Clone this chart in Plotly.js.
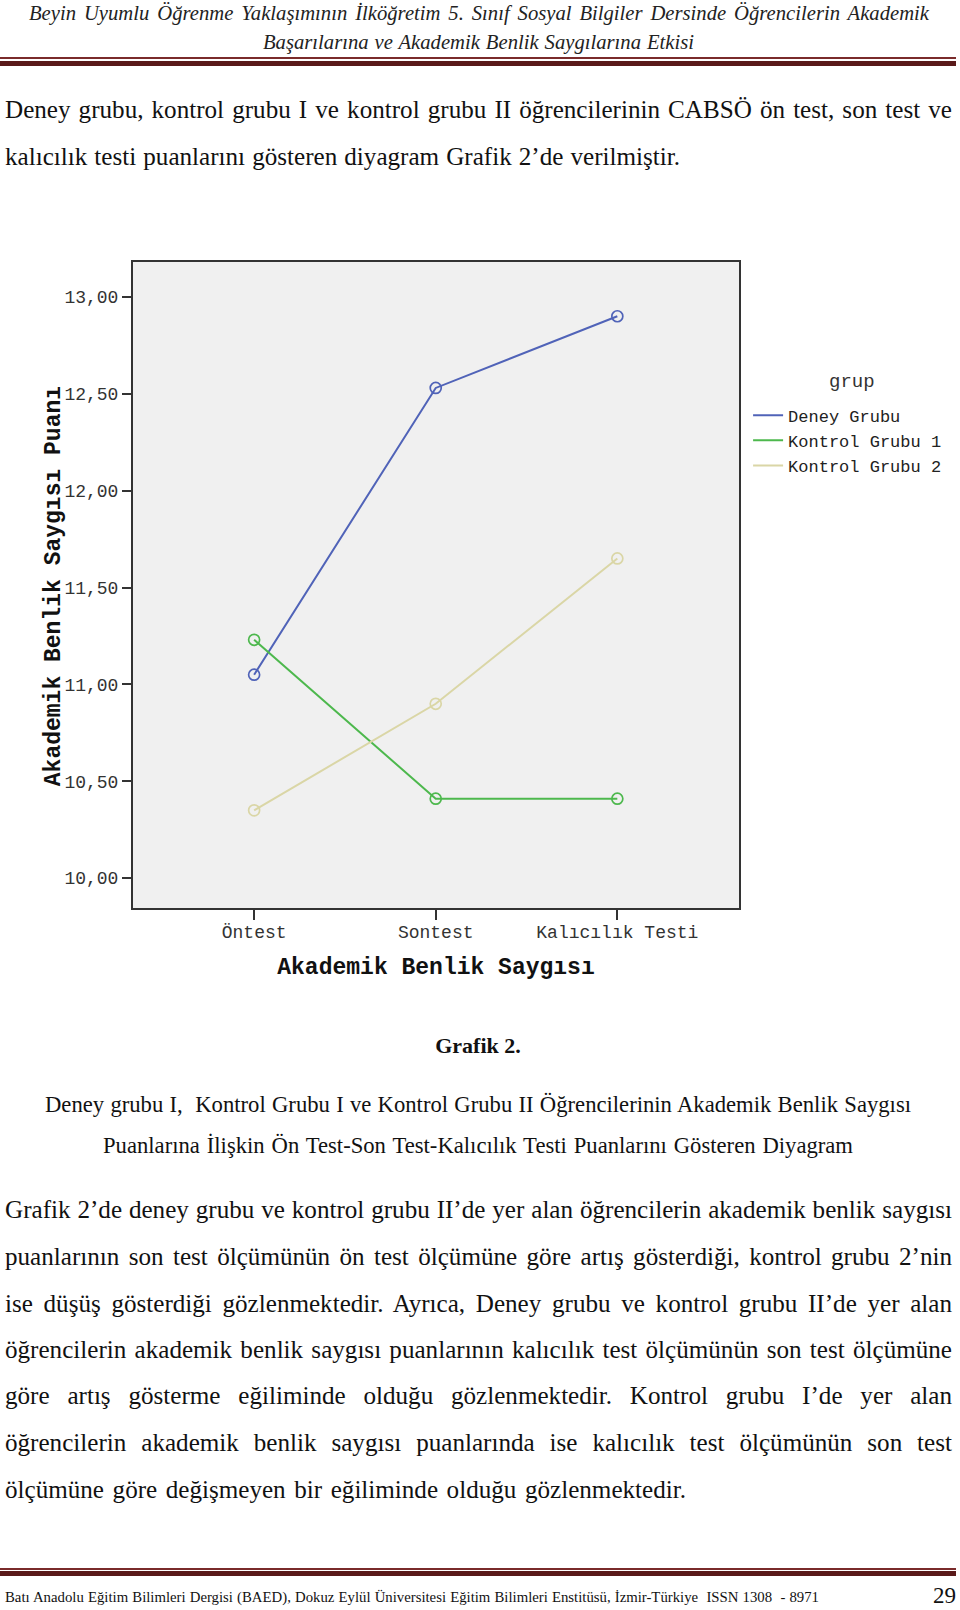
<!DOCTYPE html>
<html>
<head>
<meta charset="utf-8">
<script src="https://cdn.plot.ly/plotly-3.0.1.min.js"></script>
<style>
  html, body { margin: 0; padding: 0; background: #ffffff; }
  body { width: 960px; height: 1610px; position: relative; overflow: hidden; }
  .ln { position: absolute; white-space: normal; color: #111; font-family: "Liberation Serif", serif;
        text-align: justify; text-align-last: justify; overflow: visible; }
  .hdr { font-style: italic; font-size: 20px; color: #222; line-height: 24px; }
  .body { font-size: 22.5px; line-height: 28px; }
  .cap { font-size: 21px; line-height: 26px; }
  .foot { font-size: 14px; line-height: 18px; }
  .rule1 { position: absolute; left: 0; width: 956px; background: #7a2b2b; }
  #chart { position: absolute; left: 0; top: 230px; width: 960px; height: 770px; }
</style>
</head>
<body>
<div class="ln hdr" data-w="900" style="left:29px; width:900px; top:1px;">Beyin Uyumlu Öğrenme Yaklaşımının İlköğretim 5. Sınıf Sosyal Bilgiler Dersinde Öğrencilerin Akademik</div>
<div class="ln hdr" data-w="431" style="left:263px; width:431px; top:30px;">Başarılarına ve Akademik Benlik Saygılarına Etkisi</div>
<div class="rule1" style="top:57px; height:2px;"></div>
<div class="rule1" style="top:61px; height:5px; background:#5a1a1a;"></div>

<div class="ln body p1" data-w="947" style="left:5px; width:947px; top:96px;">Deney grubu, kontrol grubu I ve kontrol grubu II öğrencilerinin CABSÖ ön test, son test ve</div>
<div class="ln body p1" data-w="675" style="left:5px; width:675px; top:143px;">kalıcılık testi puanlarını gösteren diyagram Grafik 2’de verilmiştir.</div>

<div id="chart"></div>

<div class="ln" style="left:0; width:956px; top:1033px; font-size:22px; font-weight:bold; line-height:26px; text-align:center; text-align-last:center;">Grafik 2.</div>
<div class="ln cap" data-w="866" style="left:45px; width:866px; top:1092px;">Deney grubu I,&nbsp; Kontrol Grubu I ve Kontrol Grubu II Öğrencilerinin Akademik Benlik Saygısı</div>
<div class="ln cap" data-w="750" style="left:103px; width:750px; top:1133px;">Puanlarına İlişkin Ön Test-Son Test-Kalıcılık Testi Puanlarını Gösteren Diyagram</div>

<div class="ln body p2" data-w="947" style="left:5px; width:947px; top:1196px;">Grafik 2’de deney grubu ve kontrol grubu II’de yer alan öğrencilerin akademik benlik saygısı</div>
<div class="ln body p2" data-w="947" style="left:5px; width:947px; top:1243px;">puanlarının son test ölçümünün ön test ölçümüne göre artış gösterdiği, kontrol grubu 2’nin</div>
<div class="ln body p2" data-w="947" style="left:5px; width:947px; top:1290px;">ise düşüş gösterdiği gözlenmektedir. Ayrıca, Deney grubu ve kontrol grubu II’de yer alan</div>
<div class="ln body p2" data-w="947" style="left:5px; width:947px; top:1336px;">öğrencilerin akademik benlik saygısı puanlarının kalıcılık test ölçümünün son test ölçümüne</div>
<div class="ln body p2" data-w="947" style="left:5px; width:947px; top:1382px;">göre artış gösterme eğiliminde olduğu gözlenmektedir. Kontrol grubu I’de yer alan</div>
<div class="ln body p2" data-w="947" style="left:5px; width:947px; top:1429px;">öğrencilerin akademik benlik saygısı puanlarında ise kalıcılık test ölçümünün son test</div>
<div class="ln body p2" data-w="681" style="left:5px; width:681px; top:1476px;">ölçümüne göre değişmeyen bir eğiliminde olduğu gözlenmektedir.</div>

<div class="rule1" style="top:1568px; height:2px;"></div>
<div class="rule1" style="top:1571px; height:5px; background:#5a1a1a;"></div>
<div class="ln foot" data-w="814" style="left:5px; width:814px; top:1588px;">Batı Anadolu Eğitim Bilimleri Dergisi (BAED), Dokuz Eylül Üniversitesi Eğitim Bilimleri Enstitüsü, İzmir-Türkiye&nbsp; ISSN 1308&nbsp; - 8971</div>
<div class="ln" style="left:930px; width:26px; top:1583px; font-size:23px; line-height:26px; text-align:right; text-align-last:right;">29</div>

<script>
// ---- data ----
const categories = ['Öntest', 'Sontest', 'Kalıcılık Testi'];
const groupNames = ['Deney Grubu', 'Kontrol Grubu 1', 'Kontrol Grubu 2'];
const deneyGrubu = [11.05, 12.53, 12.90];
const kontrolGrubu1 = [11.23, 10.41, 10.41];
const kontrolGrubu2 = [10.35, 10.90, 11.65];
const legendTitle = 'grup';
const xAxisTitle = 'Akademik Benlik Saygısı';
const yAxisTitle = 'Akademik Benlik Saygısı Puanı';

// ---- fit page text lines to the widths they occupy on the page ----
(function fitText() {
  const cv = document.createElement('canvas').getContext('2d');
  function fit(sel, base, style) {
    const els = Array.from(document.querySelectorAll(sel));
    cv.font = style + ' ' + base + 'px "Liberation Serif"';
    let r = Infinity;
    els.forEach(e => { r = Math.min(r, (+e.dataset.w) / cv.measureText(e.textContent).width); });
    const fs = base * r * 0.992;
    els.forEach(e => { e.style.fontSize = fs.toFixed(2) + 'px'; });
  }
  fit('.hdr', 20, 'italic');
  fit('.p1', 22, 'normal');
  fit('.p2', 22, 'normal');
  fit('.cap', 21, 'normal');
  fit('.foot', 14, 'normal');
})();

const seriesValues = [deneyGrubu, kontrolGrubu1, kontrolGrubu2];
const colors = ['#5063B8', '#4DB84D', '#DAD6A6'];

const traces = [];
seriesValues.forEach((vals, i) => {
  traces.push({
    x: categories, y: vals, type: 'scatter', mode: 'lines+markers',
    name: groupNames[i], showlegend: false,
    line: { color: colors[i], width: 2 },
    marker: { symbol: 'circle-open', size: 11, color: colors[i], line: { width: 1.7, color: colors[i] } },
    hoverinfo: 'x+y+name'
  });
});
// legend entries (lines only, as in the original)
seriesValues.forEach((vals, i) => {
  traces.push({
    x: [null], y: [null], type: 'scatter', mode: 'lines',
    name: groupNames[i], showlegend: true,
    line: { color: colors[i], width: 2 }
  });
});

const mono = 'Liberation Mono, Courier New, monospace';
const layout = {
  width: 960, height: 770,
  margin: { l: 133, r: 221, t: 32, b: 92, pad: 0 },
  paper_bgcolor: 'rgba(0,0,0,0)',
  plot_bgcolor: '#F0F0F0',
  separators: ',.',
  showlegend: true,
  legend: {
    x: 1.015, xanchor: 'left', y: 0.790, yanchor: 'top',
    font: { family: mono, size: 17, color: '#222' },
    bgcolor: 'rgba(0,0,0,0)', borderwidth: 0, tracegroupgap: 0
  },
  xaxis: {
    type: 'category', categoryorder: 'array', categoryarray: categories,
    range: [-0.667, 2.67],
    showgrid: false, zeroline: false,
    showline: true, linecolor: '#333', linewidth: 2, mirror: true,
    ticks: 'outside', ticklen: 10, tickwidth: 2, tickcolor: '#333',
    ticklabelstandoff: -4,
    tickfont: { family: mono, size: 18, color: '#333' },
    title: { text: xAxisTitle, font: { family: mono, size: 23, color: '#111', weight: 'bold' }, standoff: 16 },
    automargin: false
  },
  yaxis: {
    range: [9.846, 13.18], tick0: 10, dtick: 0.5, tickformat: '.2f',
    showgrid: false, zeroline: false,
    showline: true, linecolor: '#333', linewidth: 2, mirror: true,
    ticks: 'outside', ticklen: 9, tickwidth: 2, tickcolor: '#333',
    tickfont: { family: mono, size: 18, color: '#333' },
    automargin: false
  },
  annotations: [{
    xref: 'paper', yref: 'paper', x: 1.1865, y: 0.814, xanchor: 'center', yanchor: 'middle',
    text: legendTitle, showarrow: false, font: { family: mono, size: 19, color: '#333' }
  }, {
    xref: 'paper', yref: 'paper', x: -0.1305, y: 0.498, xanchor: 'center', yanchor: 'middle',
    textangle: -90, text: yAxisTitle, showarrow: false,
    font: { family: mono, size: 23, color: '#111', weight: 'bold' }
  }]
};

Plotly.newPlot('chart', traces, layout, { displayModeBar: false, staticPlot: true });
</script>
</body>
</html>
